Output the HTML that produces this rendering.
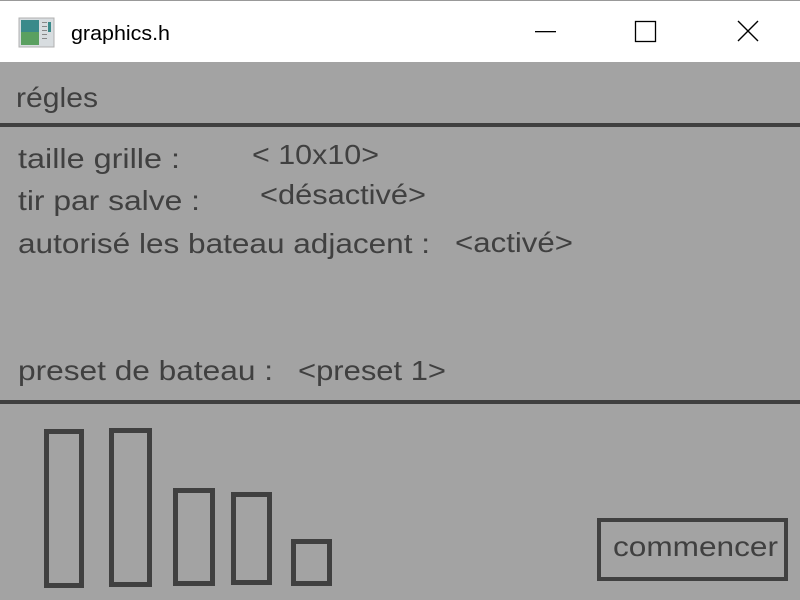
<!DOCTYPE html>
<html><head><meta charset="utf-8"><style>
html,body{margin:0;padding:0;width:800px;height:600px;overflow:hidden;background:#a3a3a3}
svg{display:block}
text{font-family:"Liberation Sans",sans-serif;fill:#404040}
</style></head><body>
<svg width="800" height="600" viewBox="0 0 800 600">
<rect x="0" y="0" width="800" height="62" fill="#fff"/>
<rect x="0" y="0" width="800" height="1" fill="#999"/>
<rect x="0" y="62" width="800" height="538" fill="#a3a3a3"/>
<rect x="19" y="18" width="35" height="29" fill="#d8dde0" stroke="#b0b0b0"/>
<rect x="21" y="20" width="18" height="25" fill="#3a8a8a"/>
<rect x="21" y="32" width="18" height="13" fill="#5aa060"/>
<rect x="42" y="22" width="5" height="1" fill="#888"/><rect x="42" y="26" width="5" height="1" fill="#888"/><rect x="42" y="30" width="5" height="1" fill="#888"/><rect x="42" y="34" width="5" height="1" fill="#888"/><rect x="42" y="38" width="5" height="1" fill="#888"/>
<rect x="48" y="22" width="3" height="10" fill="#3a8a8a"/>
<text x="71" y="40" font-size="20" textLength="99" lengthAdjust="spacingAndGlyphs" style="fill:#000">graphics.h</text>
<rect x="535" y="31" width="21" height="1.3" fill="#000"/>
<rect x="635.5" y="21.5" width="20" height="20" fill="none" stroke="#000" stroke-width="1.3"/>
<path d="M738 21 L758 41 M758 21 L738 41" stroke="#000" stroke-width="1.4"/>
<text x="16" y="107" font-size="28" textLength="82" lengthAdjust="spacingAndGlyphs">régles</text>
<rect x="0" y="123" width="800" height="4" fill="#404040"/>
<text x="18" y="168" font-size="28" textLength="162" lengthAdjust="spacingAndGlyphs">taille grille :</text>
<text x="252" y="164" font-size="28" textLength="127" lengthAdjust="spacingAndGlyphs">&lt; 10x10&gt;</text>
<text x="18" y="210" font-size="28" textLength="182" lengthAdjust="spacingAndGlyphs">tir par salve :</text>
<text x="260" y="204" font-size="28" textLength="166" lengthAdjust="spacingAndGlyphs">&lt;désactivé&gt;</text>
<text x="18" y="253" font-size="28" textLength="412" lengthAdjust="spacingAndGlyphs">autorisé les bateau adjacent :</text>
<text x="455" y="252" font-size="28" textLength="118" lengthAdjust="spacingAndGlyphs">&lt;activé&gt;</text>
<text x="18" y="380" font-size="28" textLength="255" lengthAdjust="spacingAndGlyphs">preset de bateau :</text>
<text x="298" y="380" font-size="28" textLength="148" lengthAdjust="spacingAndGlyphs">&lt;preset 1&gt;</text>
<rect x="0" y="400" width="800" height="4" fill="#404040"/>
<g fill="none" stroke="#404040" stroke-width="5">
<rect x="46.5" y="431.5" width="35" height="154"/>
<rect x="111.5" y="430.5" width="38" height="154"/>
<rect x="175.5" y="490.5" width="37" height="93"/>
<rect x="233.5" y="494.5" width="36" height="88"/>
<rect x="293.5" y="541.5" width="36" height="42"/>
</g>
<rect x="599" y="520" width="187" height="59" fill="none" stroke="#404040" stroke-width="4"/>
<text x="613" y="556" font-size="28" textLength="165" lengthAdjust="spacingAndGlyphs">commencer</text>
</svg>
</body></html>
